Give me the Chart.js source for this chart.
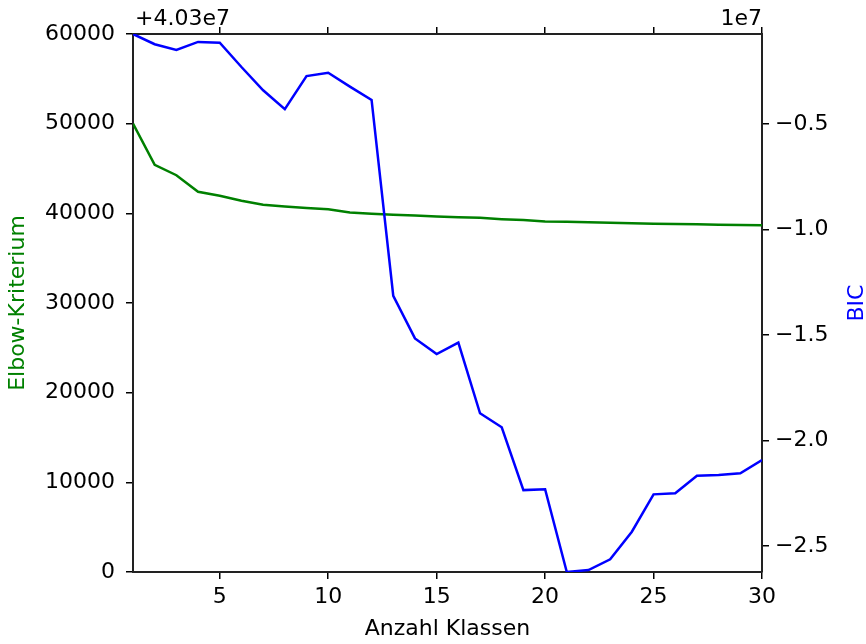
<!DOCTYPE html>
<html>
<head>
<meta charset="utf-8">
<title>Elbow / BIC</title>
<script src="https://cdn.jsdelivr.net/npm/chart.js@4"></script>
<style>
    html, body { margin: 0; padding: 0; background: #fff; }
    #wrap { width: 866px; height: 644px; position: relative; }
</style>
</head>
<body>
<div id="wrap"><canvas id="chart"></canvas></div>
<script>
// x values: number of clusters
const klassen = [1, 2, 3, 4, 5, 6, 7, 8, 9, 10, 11, 12, 13, 14, 15,
                 16, 17, 18, 19, 20, 21, 22, 23, 24, 25, 26, 27, 28, 29, 30];

// Elbow criterion, shown relative to the offset +4.03e7
const elbowOffset = [50000, 45400, 44250, 42400, 41950, 41400, 40950, 40750, 40600, 40450,
                     40100, 39950, 39850, 39750, 39650, 39550, 39500, 39350, 39250, 39100,
                     39050, 39000, 38950, 38900, 38850, 38820, 38780, 38730, 38700, 38680];

// BIC, in units of 1e7
const bicScaled = [-0.0735, -0.122, -0.149, -0.111, -0.115, -0.230, -0.340, -0.430, -0.273, -0.257,
                   -0.323, -0.386, -1.314, -1.516, -1.590, -1.536, -1.871, -1.937, -2.235, -2.231,
                   -2.623, -2.614, -2.563, -2.432, -2.255, -2.250, -2.167, -2.163, -2.155, -2.092];

// tick labels
const xTicks = [5, 10, 15, 20, 25, 30];
const elbowTicks = [0, 10000, 20000, 30000, 40000, 50000, 60000];
const bicTicks = [-0.5, -1.0, -1.5, -2.0, -2.5];

const FONT = "'DejaVu Sans', sans-serif";
const tickFont = { family: FONT, size: 22 };

// shared look for axes (matplotlib-ish spines and outward ticks)
function axisGrid() {
    return {
        drawOnChartArea: false,
        drawTicks: true,
        tickLength: 7,
        color: '#000',
        lineWidth: 1.5
    };
}
const axisBorder = { display: true, color: '#222', width: 2 };

// offset / multiplier texts above the plot, and the right axis label
// (matplotlib reads it bottom-to-top, Chart.js would rotate it the other way)
const extraTextPlugin = {
    id: 'extraText',
    afterDraw(chart) {
        const ctx = chart.ctx;
        const area = chart.chartArea;
        ctx.save();
        ctx.font = '22px ' + FONT;
        ctx.fillStyle = '#000';
        ctx.textBaseline = 'alphabetic';
        ctx.textAlign = 'left';
        ctx.fillText('+4.03e7', area.left + 2, area.top - 9);
        ctx.textAlign = 'right';
        ctx.fillText('1e7', area.right, area.top - 9);

        ctx.translate(chart.width - 9, (area.top + area.bottom) / 2);
        ctx.rotate(-Math.PI / 2);
        ctx.textAlign = 'center';
        ctx.textBaseline = 'middle';
        ctx.fillStyle = '#0000ff';
        ctx.fillText('BIC', 0, 0);
        ctx.restore();
    }
};

const ctx = document.getElementById('chart');
new Chart(ctx, {
    type: 'line',
    data: {
        datasets: [
            {
                label: 'BIC',
                data: klassen.map((k, i) => ({ x: k, y: bicScaled[i] })),
                yAxisID: 'y2',
                borderColor: '#0000ff',
                borderWidth: 2.5,
                pointRadius: 0,
                tension: 0,
                order: 0
            },
            {
                label: 'Elbow-Kriterium',
                data: klassen.map((k, i) => ({ x: k, y: elbowOffset[i] })),
                yAxisID: 'y',
                borderColor: '#008000',
                borderWidth: 2.5,
                pointRadius: 0,
                tension: 0,
                order: 1
            }
        ]
    },
    options: {
        responsive: true,
        maintainAspectRatio: false,
        animation: false,
        layout: { padding: 0 },
        plugins: {
            legend: { display: false },
            tooltip: { enabled: false }
        },
        scales: {
            x: {
                type: 'linear',
                position: 'bottom',
                min: 1,
                max: 30,
                afterBuildTicks: (scale) => { scale.ticks = xTicks.map(v => ({ value: v })); },
                afterFit: (scale) => { scale.height = 72; },
                grid: axisGrid(),
                border: axisBorder,
                ticks: { font: tickFont, color: '#000', padding: 5, maxRotation: 0 },
                title: {
                    display: true,
                    text: 'Anzahl Klassen',
                    font: tickFont,
                    color: '#000',
                    padding: { top: 0, bottom: 2 }
                }
            },
            x2: {
                type: 'linear',
                position: 'top',
                min: 1,
                max: 30,
                afterBuildTicks: (scale) => { scale.ticks = xTicks.map(v => ({ value: v })); },
                afterFit: (scale) => { scale.height = 34; },
                grid: axisGrid(),
                border: axisBorder,
                ticks: { display: false }
            },
            y: {
                type: 'linear',
                position: 'left',
                min: 0,
                max: 60000,
                afterBuildTicks: (scale) => { scale.ticks = elbowTicks.map(v => ({ value: v })); },
                afterFit: (scale) => { scale.width = 133; },
                grid: axisGrid(),
                border: axisBorder,
                ticks: { font: tickFont, color: '#000', padding: 11, callback: (v) => String(v) },
                title: {
                    display: true,
                    text: 'Elbow-Kriterium',
                    font: tickFont,
                    color: '#008000',
                    padding: { top: 5, bottom: 0 }
                }
            },
            y2: {
                type: 'linear',
                position: 'right',
                min: -2.623,
                max: -0.0735,
                afterBuildTicks: (scale) => { scale.ticks = bicTicks.map(v => ({ value: v })); },
                afterFit: (scale) => { scale.width = 104; },
                grid: axisGrid(),
                border: axisBorder,
                ticks: {
                    font: tickFont,
                    color: '#000',
                    padding: 6,
                    callback: (v) => v.toFixed(1).replace('-', '\u2212')
                }
            }
        }
    },
    plugins: [extraTextPlugin]
});
</script>
</body>
</html>
